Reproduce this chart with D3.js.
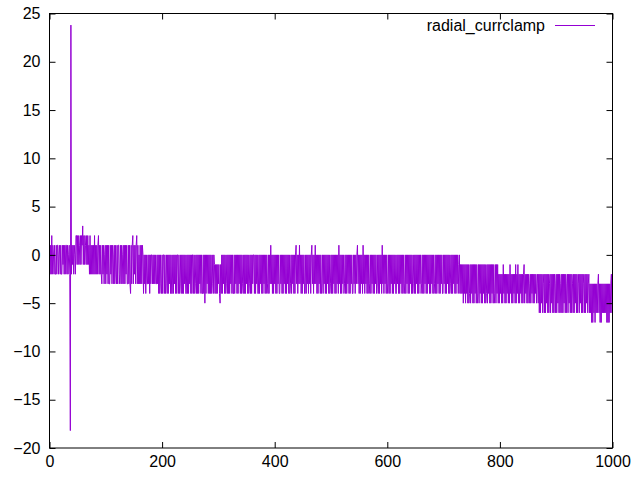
<!DOCTYPE html>
<html>
<head>
<meta charset="utf-8">
<script src="https://cdn.jsdelivr.net/npm/d3@7"></script>
<style>
  html, body { margin: 0; padding: 0; background: #fff; }
  svg { display: block; }
  text { font-family: "Liberation Sans", Arial, sans-serif; font-size: 16px; fill: #000; }
</style>
</head>
<body>
<svg id="chart" width="640" height="480"></svg>
<script>
// ---- Data ----
const seriesName = "radial_currclamp";
const xTicks = [0, 200, 400, 600, 800, 1000];
const yTicks = [-20, -15, -10, -5, 0, 5, 10, 15, 20, 25];

const valuesStart = [ // idx 0-92
  1,-2,1,-2,2,-2,1,0,-2,1,
  -2,-2,1,-2,1,1,-2,0,1,-2,
  1,-2,-2,1,-1,1,-2,1,-2,1,
  1,-2,1,-2,0,1,-2,-18.2,23.8,-2,
  1,-1,1,-2,1,0,-2,2,2,-1,
  2,-1,2,1,-1,2,-1,2,1,3,-1,2,-1,2,1,-1,2,-1,2,-1,
  1,-2,2,-2,1,-2,1,-2,1,-2,2,-2,1,-2,1,-2,1,2,-2,1,-2,1,-2
];
const valuesEarly = [ // idx 93-165
  -3,1,-2,1,-3,0,1,-3,1,-2,
  1,-3,1,-3,-3,1,-2,1,-3,1,
  0,-3,1,-3,1,-2,-3,1,-3,1,
  1,-3,-2,1,-3,1,-3,0,1,-3,
  1,-3,1,-2,1,-3,-3,1,-3,1,
  -3,-4,1,-3,1,2,-3,1,-2,1,
  -3,1,2,-3,1,-3,0,-3,1,-3,
  1,-3,1
];
const valuesMidA = [ // idx 166-334
  0,-4,0,-3,0,-4,0,-3,-3,0,
  -3,0,-4,0,-3,0,0,-3,0,-3,
  0,-3,0,-3,-3,0,-3,0,-4,0,
  -4,0,-3,-4,0,-4,0,0,-4,0,
  -4,-3,0,-4,0,-4,0,-3,0,-4,
  0,-4,-4,0,-4,0,-3,0,-4,0,
  -4,0,0,-4,0,-4,-3,0,-4,0,
  -4,0,-4,0,-3,0,-4,-4,0,-4,
  0,-4,0,-3,0,-4,0,-4,0,0,
  -4,0,-4,-3,0,-4,0,-4,0,-4,
  0,-3,0,-4,0,-4,-4,0,-4,0,
  -5,0,-4,0,-3,0,-4,0,-4,0,
  -4,0,-4,-3,0,-4,0,-1,-4,-1,
  -4,-1,-4,-1,-3,-1,-4,-5,-1,-4,
  0,-4,0,-3,0,-4,0,-4,-3,0,
  -4,0,-4,0,-4,0,-3,0,-4,0,
  -4,-4,0,-4,0,-3,0,-4,0
];
const valuesMidB = [ // idx 335-503
  -4,0,-3,0,-4,0,-4,0,-3,-4,
  0,-4,0,-4,0,-3,0,-4,0,-4,
  -3,0,-4,0,-4,0,-3,0,0,-4,
  0,-4,0,-3,0,-4,-4,0,-4,0,
  -3,0,-4,0,-4,0,-3,0,-4,0,
  -4,0,-3,-4,0,-4,0,-3,1,-3,
  0,-4,0,-4,0,-3,0,-4,0,-4,
  0,-3,0,-4,-4,0,-3,0,-4,0,
  -4,0,-3,0,-4,0,-4,0,-3,0,
  -4,0,-4,-3,0,-4,0,-3,0,-4,
  0,-4,0,1,-3,0,-4,0,-3,1,
  -3,0,-4,0,-4,0,-3,0,-4,-4,
  0,-4,0,-3,0,-4,0,-3,0,-4,
  0,1,-3,0,-4,0,-3,1,-3,0,
  -4,0,-4,0,-3,0,-4,0,-4,-3,
  0,-4,0,-3,0,-4,0,-4,0,-3,
  0,-4,0,-4,-3,0,-4,0,-4
];
const valuesMidC = [ // idx 504-672
  0,-3,0,-4,0,-4,0,-3,0,-4,
  1,-3,0,-4,0,-4,0,-3,0,-4,
  -3,0,-4,0,-4,0,-3,0,-4,0,
  -4,0,-3,0,-4,-4,0,-3,0,-4,
  0,-3,0,1,-3,0,-4,0,-4,0,
  -3,0,-4,1,-3,0,-4,0,-3,0,
  -4,0,-4,0,-3,-4,0,-4,0,-3,
  0,-4,0,-4,0,-3,0,-4,-3,0,
  -4,0,-4,0,-3,0,-4,1,-3,0,
  -4,0,-3,0,-4,0,-4,-3,0,-4,
  0,-4,0,-3,0,-4,0,-4,0,-3,
  0,-4,-4,0,-3,0,-4,0,-4,0,
  -3,0,-4,0,-4,0,-3,-4,0,-4,
  0,-3,0,-4,0,-4,0,-3,0,-4,
  0,-4,-3,0,-4,0,-4,0,-3,0,
  -4,0,-4,0,-3,0,-4,-3,0,-4,
  0,-4,0,-3,0,-4,0,-4,0
];
const valuesLateA = [ // idx 673-840
  -3,0,-4,0,-4,0,-3,0,-4,0,
  -4,-3,0,-4,0,-4,0,-3,0,-4,
  0,-4,0,-3,0,-4,-4,0,-3,0,
  -4,0,-4,0,-3,0,-4,0,-4,-3,
  0,-4,0,-4,0,-3,0,-4,0,-4,
  0,-3,0,-4,-1,0,
  -4,-1,-4,-1,-4,-1,-5,-1,-4,-1,
  -5,-1,-4,-1,-5,-1,-5,-4,-1,-5,
  -1,-4,-1,-5,-1,-5,-1,-4,-1,-5,
  -1,-5,-4,-1,-5,-1,-4,-1,-5,-1,
  -5,-1,-4,-1,-5,-1,-5,-4,-1,-5,
  -1,-4,-1,-5,-1,-5,-1,-4,-1,-5,
  -1,-5,-4,-1,-5,-1,-4,-1,-5,-2,
  -5,-2,-4,-2,-5,-2,-5,-1,-4,-2,
  -5,-2,-5,-2,-4,-2,-5,-2,-5,-1,
  -4,-2,-5,-2,-5,-2,-4,-2,-5,-1,
  -5,-2,-4,-1,-5,-2,-5,-2,-4,-2,
  -5,-2
];
const valuesLateB = [ // idx 841-1000
  -5,-2,-1,-5,-2,-4,-2,-5,-2,-5,
  -2,-3,-5,-2,-5,-2,-4,-2,-5,-2,
  -5,-2,-4,-2,-5,-3,-2,-5,-2,-6,
  -2,-6,-2,-5,-2,-6,-3,-2,-6,-2,
  -6,-2,-5,-2,-6,-2,-6,-3,-2,-6,
  -2,-5,-2,-6,-2,-6,-2,-3,-6,-2,
  -6,-2,-5,-2,-6,-2,-6,-3,-2,-6,
  -2,-6,-2,-5,-2,-6,-2,-6,-3,-2,
  -6,-2,-5,-2,-6,-2,-6,-2,-3,-6,
  -2,-6,-2,-5,-2,-6,-2,-6,-3,-2,
  -6,-2,-5,-2,-6,-2,-6,-2,-3,-6,
  -2,-6,-2,-5,-2,-6,-3,-2,-6,-3,
  -6,-3,-7,-3,-7,-3,-6,-3,-7,-3,
  -6,-3,-6,-3,-2,-6,-3,-7,-3,-7,
  -3,-6,-3,-6,-3,-6,-3,-6,-3,-7,
  -3,-7,-3,-7,-3,-6,-3,-2,-6,-2
];

const values = [].concat(valuesStart, valuesEarly, valuesMidA, valuesMidB, valuesMidC, valuesLateA, valuesLateB);
const points = values.map((v, i) => ({ x: i, y: v }));

// ---- Layout ----
const svg = d3.select("#chart");
const mLeft = 49.5, mRight = 612.5, mTop = 13.5, mBottom = 448;

const xScale = d3.scaleLinear().domain([0, 1000]).range([mLeft, mRight]);
const yScale = d3.scaleLinear().domain([-20, 25]).range([mBottom, mTop]);

// series line
const lineGen = d3.line().x(d => xScale(d.x)).y(d => yScale(d.y));
svg.append("path")
  .datum(points)
  .attr("fill", "none")
  .attr("stroke", "#9400d3")
  .attr("stroke-width", 1)
  .attr("d", lineGen);

// axes with inward ticks (gnuplot style), mirrored
const tickLen = 6;
const gB = svg.append("g").attr("transform", `translate(0,${mBottom})`)
  .call(d3.axisBottom(xScale).tickValues(xTicks).tickSize(-tickLen).tickPadding(8).tickFormat(d3.format("d")));
const gL = svg.append("g").attr("transform", `translate(${mLeft},0)`)
  .call(d3.axisLeft(yScale).tickValues(yTicks).tickSize(-tickLen).tickPadding(9).tickFormat(d3.format("d")));
const gT = svg.append("g").attr("transform", `translate(0,${mTop})`)
  .call(d3.axisTop(xScale).tickValues(xTicks).tickSize(-tickLen).tickFormat(""));
const gR = svg.append("g").attr("transform", `translate(${mRight},0)`)
  .call(d3.axisRight(yScale).tickValues(yTicks).tickSize(-tickLen).tickFormat(""));

[gB, gL, gT, gR].forEach(g => {
  g.select(".domain").remove();
  g.selectAll("text").attr("font-family", "Liberation Sans, Arial, sans-serif").attr("font-size", 16).attr("fill", "#000");
  g.selectAll("line").attr("stroke", "#000");
});

// border box
svg.append("rect")
  .attr("x", mLeft).attr("y", mTop)
  .attr("width", mRight - mLeft).attr("height", mBottom - mTop)
  .attr("fill", "none").attr("stroke", "#000").attr("stroke-width", 1);

// legend
const legY = 25.5;
svg.append("text")
  .attr("x", 545).attr("y", legY)
  .attr("dy", "0.35em")
  .attr("text-anchor", "end")
  .text(seriesName);
svg.append("line")
  .attr("x1", 555).attr("x2", 595)
  .attr("y1", legY).attr("y2", legY)
  .attr("stroke", "#9400d3").attr("stroke-width", 1);
</script>
</body>
</html>
